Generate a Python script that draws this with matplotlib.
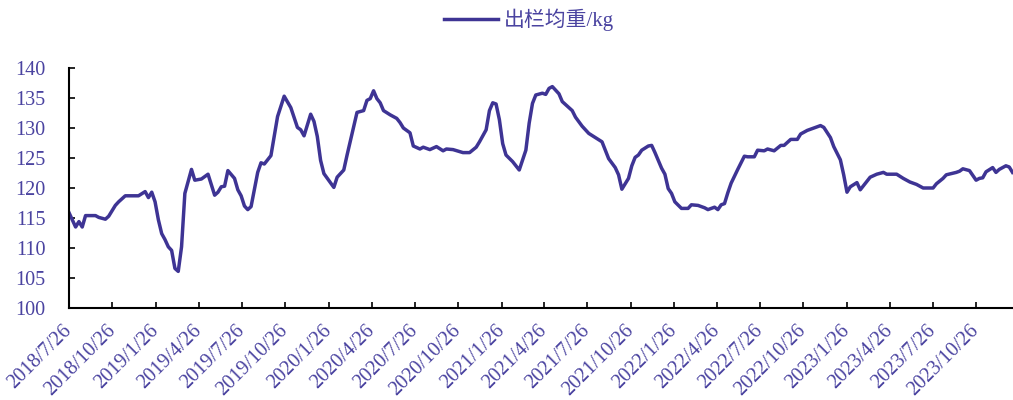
import matplotlib
matplotlib.use("Agg")
import matplotlib.pyplot as plt
import pandas as pd
import numpy as np

# ---- data ----
start_date = "2018-07-26"          # weekly series start
week_no = [0, 2, 3, 4, 5, 8, 9, 11, 12, 14, 15, 17, 21, 23, 24, 25, 26, 27, 28, 29,
           30, 31, 32, 33, 34, 35, 37, 38, 40, 42, 44, 45, 46, 47, 48, 50, 51, 52, 53, 54,
           55, 57, 58, 59, 61, 63, 65, 67, 69, 70, 71, 73, 74, 75, 76, 77, 80, 81, 83, 84,
           87, 89, 90, 91, 92, 93, 94, 95, 97, 99, 100, 101, 103, 104, 106, 107, 109, 111, 113, 114,
           116, 119, 121, 123, 124, 126, 127, 128, 129, 130, 131, 132, 134, 136, 138, 139, 140, 141, 143, 144,
           145, 146, 148, 149, 152, 153, 155, 157, 159, 161, 162, 163, 165, 166, 167, 169, 170, 171, 172, 173,
           175, 176, 177, 179, 180, 181, 182, 183, 185, 187, 188, 190, 192, 193, 195, 196, 197, 198, 199, 200,
           202, 204, 205, 207, 208, 210, 211, 213, 215, 216, 218, 220, 221, 223, 225, 227, 228, 230, 231, 233,
           234, 235, 236, 238, 239, 240, 242, 244, 246, 247, 250, 252, 254, 256, 258, 261, 262, 264, 265, 268,
           269, 270, 272, 274, 275, 276, 277, 279, 280, 281, 283, 284, 285]
weight = [115.9, 113.5, 114.4, 113.5, 115.4, 115.4, 115.1, 114.8, 115.3, 117.1, 117.7, 118.7, 118.7, 119.4, 118.4, 119.3, 117.7, 114.7, 112.4, 111.4,
          110.2, 109.6, 106.6, 106.1, 110.2, 119.1, 123.1, 121.3, 121.5, 122.3, 118.8, 119.3, 120.2, 120.3, 122.9, 121.6, 119.7, 118.7, 117.0, 116.4,
          116.9, 122.6, 124.2, 124.0, 125.4, 131.9, 135.3, 133.4, 130.1, 129.7, 128.7, 132.3, 131.1, 128.6, 124.6, 122.4, 120.1, 121.8, 123.0, 125.5,
          132.6, 132.9, 134.6, 134.9, 136.2, 134.9, 134.2, 132.9, 132.2, 131.6, 130.9, 130.0, 129.2, 127.0, 126.5, 126.8, 126.4, 126.9, 126.2, 126.5,
          126.4, 125.9, 125.9, 126.8, 127.7, 129.7, 132.9, 134.2, 134.0, 131.4, 127.4, 125.5, 124.4, 123.0, 126.3, 130.8, 134.1, 135.5, 135.8, 135.6,
          136.6, 136.9, 135.7, 134.4, 132.9, 131.8, 130.3, 129.1, 128.4, 127.7, 126.3, 124.9, 123.4, 122.2, 119.8, 121.6, 123.7, 125.1, 125.5, 126.3,
          127.0, 127.1, 125.9, 123.3, 122.3, 119.9, 119.1, 117.7, 116.6, 116.6, 117.2, 117.1, 116.7, 116.4, 116.8, 116.4, 117.2, 117.4, 119.2, 120.8,
          123.1, 125.3, 125.2, 125.2, 126.3, 126.2, 126.5, 126.2, 127.1, 127.1, 128.1, 128.1, 129.0, 129.6, 130.0, 130.4, 130.1, 128.4, 126.9, 124.7,
          122.2, 119.3, 120.2, 120.9, 119.7, 120.4, 121.8, 122.3, 122.6, 122.3, 122.3, 121.6, 121.0, 120.6, 120.0, 120.0, 120.7, 121.6, 122.2, 122.6,
          122.8, 123.2, 122.9, 121.3, 121.6, 121.7, 122.7, 123.4, 122.6, 123.1, 123.7, 123.5, 122.6]
tick_dates = ["2018-07-26", "2018-10-26", "2019-01-26", "2019-04-26", "2019-07-26", "2019-10-26",
              "2020-01-26", "2020-04-26", "2020-07-26", "2020-10-26", "2021-01-26", "2021-04-26",
              "2021-07-26", "2021-10-26", "2022-01-26", "2022-04-26", "2022-07-26", "2022-10-26",
              "2023-01-26", "2023-04-26", "2023-07-26", "2023-10-26"]
y_ticks = [100, 105, 110, 115, 120, 125, 130, 135, 140]
series_name = "出栏均重/kg"

line_color = "#3E3494"
text_color = "#4A43A0"

dates = pd.Timestamp(start_date) + pd.to_timedelta(np.array(week_no) * 7, unit="D")
tick_ts = pd.to_datetime(tick_dates)
tick_labels = [f"{d.year}/{d.month}/{d.day}" for d in tick_ts]

fig = plt.figure(figsize=(10.13, 4.0), dpi=100)
ax = fig.add_axes([0.0681, 0.23, 0.9319, 0.60])

ax.plot(dates, weight, color=line_color, lw=2.5, solid_joinstyle="round", label=series_name)

ax.set_ylim(100, 140)
ax.set_yticks(y_ticks)
ax.set_xlim(pd.Timestamp(start_date), dates[-1] + pd.Timedelta(days=1))
ax.set_xticks(tick_ts)
ax.set_xticklabels(tick_labels, rotation=45, ha="right", va="center",
                   rotation_mode="anchor",
                   fontfamily="Liberation Serif", fontsize=14.5, color=text_color)
for lab in ax.get_yticklabels():
    lab.set_fontfamily("Liberation Serif")
    lab.set_fontsize(14.5)
    lab.set_color(text_color)

ax.tick_params(axis="y", direction="in", length=4, width=1.2, color="black", pad=17)
ax.tick_params(axis="x", direction="in", length=4, width=1.2, color="black", pad=14)
for s in ["top", "right"]:
    ax.spines[s].set_visible(False)
for s in ["left", "bottom"]:
    ax.spines[s].set_linewidth(1.5)
    ax.spines[s].set_color("black")

leg = fig.legend(loc="center", bbox_to_anchor=(0.522, 0.95), frameon=False,
                 handlelength=2.6, handletextpad=0.25,
                 prop={"family": ["Liberation Serif", "Noto Sans CJK SC"], "size": 15})
for t in leg.get_texts():
    t.set_color(text_color)

fig.savefig("out.png", dpi=100)
